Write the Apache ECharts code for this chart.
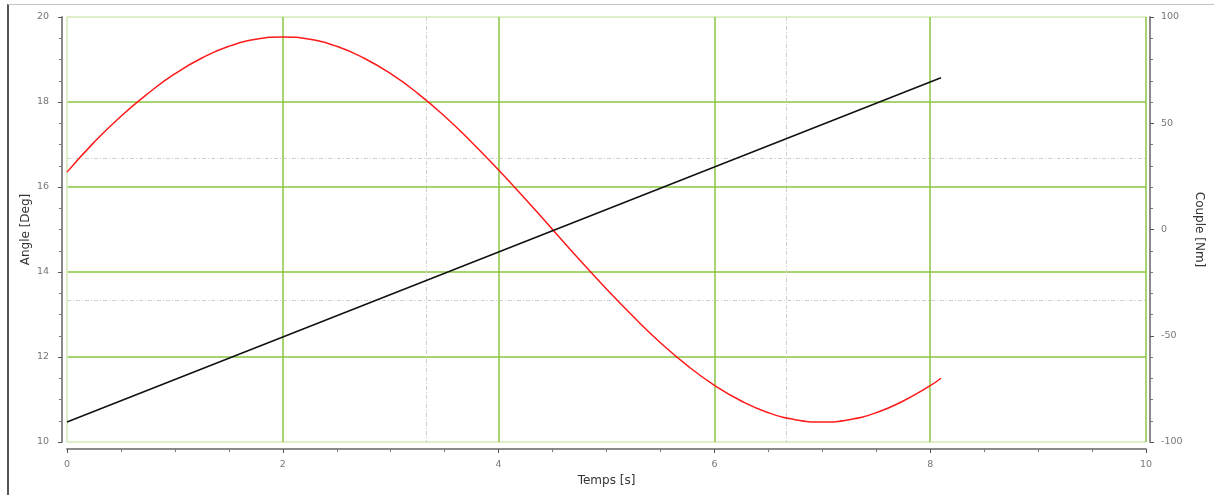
<!DOCTYPE html>
<html>
<head>
<meta charset="utf-8">
<script src="https://cdn.jsdelivr.net/npm/echarts@6/dist/echarts.min.js"></script>
<style>
html,body{margin:0;padding:0;background:#fff;}
#chart{width:1214px;height:495px;position:absolute;left:0;top:0;}
#frame{position:absolute;left:7px;top:4px;width:1207px;height:491px;border-left:2px solid #555;border-top:1px solid #c4c4c4;pointer-events:none;}
</style>
</head>
<body>
<div id="chart"></div>
<div id="frame"></div>
<script>
// Data
const time = [0,0.25,0.5,0.75,1,1.25,1.5,1.75,2,2.25,2.5,2.75,3,3.25,3.5,3.75,4,4.25,4.5,4.75,5,5.25,5.5,5.75,6,6.25,6.5,6.75,7,7.25,7.5,7.75,8,8.1];
const couple = [27,41,53.3,64,73.3,80.7,86.2,89.5,90.6,89.5,86.2,80.7,73.3,64.1,53.3,41.1,28,14.2,0,-14.2,-28,-41.1,-53.3,-64.1,-73.3,-80.7,-86.2,-89.5,-90.6,-89.5,-86.2,-80.7,-73.5,-70];
const angleTime = [0,2,4,6,8,8.1];
const angle = [10.47,12.47,14.47,16.47,18.47,18.57];
const xTitle = 'Temps [s]';
const yLeftTitle = 'Angle [Deg]';
const yRightTitle = 'Couple [Nm]';

const GREEN = '#8ac640';
const LGREEN = '#d2e9b6';
const DASH = '#cfcfcf';
const AX = '#8a8a8a';
const LBL = {color:'#777', fontSize:9.5, fontFamily:'DejaVu Sans'};
const NAME = {color:'#333', fontSize:12, fontFamily:'DejaVu Sans'};

const chart = echarts.init(document.getElementById('chart'), null, {renderer:'canvas'});
chart.setOption({
  animation:false,
  grid:{left:67, right:68, top:17, bottom:53, containLabel:false},
  xAxis:[{
    type:'value', min:0, max:10, interval:2, position:'bottom', offset:7,
    name:xTitle, nameLocation:'middle', nameGap:25, nameTextStyle:NAME,
    axisLine:{show:true, onZero:false, lineStyle:{color:AX, width:2}},
    axisTick:{show:true, length:4, lineStyle:{color:'#555'}},
    minorTick:{show:true, splitNumber:4, length:3, lineStyle:{color:'#777'}},
    axisLabel:Object.assign({margin:11}, LBL),
    splitLine:{show:true, lineStyle:{color:[LGREEN,GREEN,GREEN,GREEN,GREEN,GREEN], width:1.5}}
  },{
    type:'value', min:0, max:3, interval:1, position:'top',
    axisLine:{show:false, onZero:false}, axisTick:{show:false}, axisLabel:{show:false},
    splitLine:{show:true, lineStyle:{color:['rgba(0,0,0,0)',DASH,DASH,'rgba(0,0,0,0)'], type:[4,2,1,2], width:1}}
  }],
  yAxis:[{
    type:'value', min:10, max:20, interval:2, position:'left', offset:5,
    name:yLeftTitle, nameLocation:'middle', nameGap:30, nameMoveOverlap:false, nameRotate:90, nameTextStyle:NAME,
    axisLine:{show:true, onZero:false, lineStyle:{color:AX, width:2}},
    axisTick:{show:true, length:4, lineStyle:{color:'#555'}},
    minorTick:{show:true, splitNumber:4, length:3, lineStyle:{color:'#777'}},
    axisLabel:Object.assign({margin:13}, LBL),
    splitLine:{show:true, lineStyle:{color:[LGREEN,GREEN,GREEN,GREEN,GREEN,LGREEN], width:1.5}}
  },{
    type:'value', min:-100, max:100, interval:50, position:'right', offset:4,
    name:yRightTitle, nameLocation:'middle', nameGap:43, nameRotate:-90, nameTextStyle:NAME,
    axisLine:{show:true, onZero:false, lineStyle:{color:AX, width:2}},
    axisTick:{show:true, length:4, lineStyle:{color:'#555'}},
    minorTick:{show:true, splitNumber:5, length:3, lineStyle:{color:'#777'}},
    axisLabel:Object.assign({margin:11}, LBL),
    splitLine:{show:false}
  },{
    type:'value', min:0, max:3, interval:1, position:'left',
    axisLine:{show:false, onZero:false}, axisTick:{show:false}, axisLabel:{show:false},
    splitLine:{show:true, lineStyle:{color:['rgba(0,0,0,0)',DASH,DASH,'rgba(0,0,0,0)'], type:[4,2,1,2], width:1}}
  }],
  series:[{
    type:'line', xAxisIndex:0, yAxisIndex:1, smooth:true, showSymbol:false,
    data:time.map((t,i)=>[t,couple[i]]),
    lineStyle:{color:'#ff1a1a', width:1.5}, z:3
  },{
    type:'line', xAxisIndex:0, yAxisIndex:0, showSymbol:false,
    data:angleTime.map((t,i)=>[t,angle[i]]),
    lineStyle:{color:'#111', width:1.5}, z:4
  }]
});
</script>
</body>
</html>
